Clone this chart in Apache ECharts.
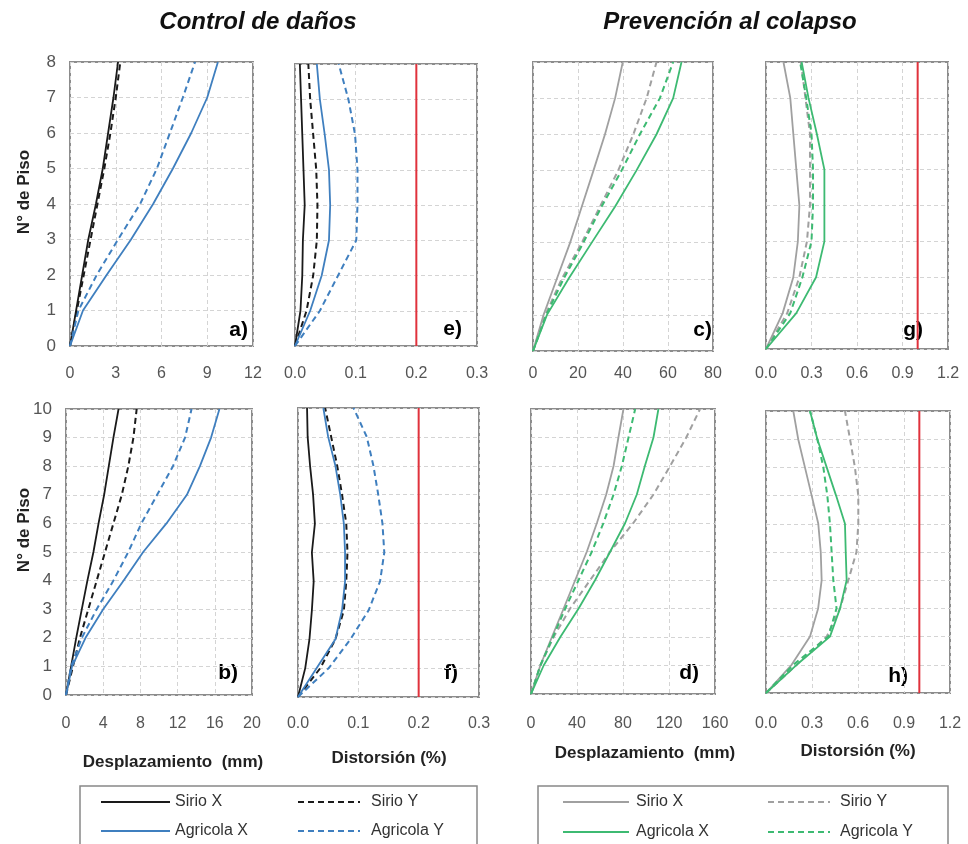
<!DOCTYPE html>
<html><head><meta charset="utf-8">
<script src="https://cdn.jsdelivr.net/npm/echarts@6/dist/echarts.min.js"></script>
<style>html,body{margin:0;padding:0;background:#fff}#c{width:968px;height:844px}</style>
</head><body><div id="c"></div>
<script>
// ---- data ----
const floors8 = [0,1,2,3,4,5,6,7,8];
const floors10 = [0,1,2,3,4,5,6,7,8,9,10];
// a) displacement, 8 floors (mm)
const a_sirioX = [0,0.4,0.8,1.2,1.7,2.15,2.5,2.85,3.15];
const a_sirioY = [0,0.45,0.9,1.35,1.8,2.25,2.65,3.0,3.3];
const a_agriX = [0,0.85,2.4,4.0,5.45,6.75,7.95,9.0,9.7];
const a_agriY = [0,0.55,1.75,3.15,4.6,5.7,6.55,7.4,8.2];
// e) drift, 8 floors (%)
const e_sirioX = [0,0.009,0.012,0.013,0.016,0.014,0.012,0.010,0.008];
const e_sirioY = [0,0.019,0.030,0.036,0.037,0.035,0.030,0.025,0.022];
const e_agriX = [0,0.025,0.044,0.056,0.058,0.056,0.049,0.041,0.036];
const e_agriY = [0,0.041,0.071,0.101,0.103,0.103,0.099,0.088,0.072];
// c) displacement, 8 floors (mm)
const c_sirioX = [0,4.7,10.6,16.5,21.7,26.9,32,36.5,39.9];
const c_sirioY = [0,5.5,12.8,21.7,29.8,37.9,44.6,50.5,54.9];
const c_agriX = [0,6.2,15.8,26.1,36.5,46,54.9,62.3,66];
const c_agriY = [0,5.9,13.6,22.4,30.5,39.4,47.5,56.4,62.3];
// g) drift, 8 floors (%)
const g_sirioX = [0,0.11,0.18,0.21,0.22,0.20,0.18,0.16,0.115];
const g_sirioY = [0,0.14,0.22,0.27,0.29,0.29,0.29,0.26,0.23];
const g_agriX = [0,0.20,0.33,0.385,0.385,0.385,0.335,0.28,0.235];
const g_agriY = [0,0.16,0.24,0.30,0.31,0.31,0.30,0.265,0.225];
// b) displacement, 10 floors (mm)
const b_sirioX = [0,0.55,1.1,1.7,2.3,2.95,3.5,4.1,4.6,5.1,5.65];
const b_sirioY = [0,0.75,1.5,2.4,3.3,4.2,5.1,6.0,6.7,7.25,7.6];
const b_agriX = [0,0.65,2.1,4.0,6.2,8.3,10.8,13,14.4,15.6,16.5];
const b_agriY = [0,0.55,1.7,3.3,5.1,6.7,8.1,9.8,11.5,12.8,13.5];
// f) drift, 10 floors (%)
const f_sirioX = [0,0.012,0.019,0.023,0.026,0.023,0.028,0.025,0.020,0.016,0.015];
const f_sirioY = [0,0.037,0.062,0.076,0.080,0.082,0.080,0.073,0.065,0.055,0.045];
const f_agriX = [0,0.031,0.062,0.073,0.078,0.078,0.076,0.070,0.062,0.050,0.042];
const f_agriY = [0,0.051,0.087,0.117,0.136,0.143,0.140,0.133,0.125,0.114,0.092];
// d) displacement, 10 floors (mm)
const d_sirioX = [0,8.1,18.2,28.4,38.5,48.6,57.3,65.4,71.8,76,80.4];
const d_sirioY = [0,8.1,19.7,34,51.5,69,89,106.5,121,135,147];
const d_agriX = [0,11,25.5,41.4,55.8,68.9,81.9,92,99,106.5,110.8];
const d_agriY = [0,8.1,19.1,29.8,41.4,53,63,71.8,79,84.8,90.6];
// h) drift, 10 floors (%)
const h_sirioX = [0,0.167,0.287,0.34,0.363,0.357,0.341,0.298,0.254,0.21,0.178];
const h_sirioY = [0,0.2,0.396,0.483,0.537,0.59,0.602,0.602,0.58,0.548,0.515];
const h_agriX = [0,0.2,0.417,0.483,0.526,0.52,0.515,0.457,0.396,0.335,0.287];
const h_agriY = [0,0.178,0.407,0.46,0.439,0.428,0.417,0.4,0.374,0.335,0.287];
// limits
const driftLimitDamage = 0.2;
const driftLimitCollapse = 1.0;
// axis ticks
const xTicks_a = [0,3,6,9,12];
const xTicks_e = [0,0.1,0.2,0.3];
const xTicks_c = [0,20,40,60,80];
const xTicks_g = [0,0.3,0.6,0.9,1.2];
const xTicks_b = [0,4,8,12,16,20];
const xTicks_f = [0,0.1,0.2,0.3];
const xTicks_d = [0,40,80,120,160];
const xTicks_h = [0,0.3,0.6,0.9,1.2];
const legendNames = ['Sirio X','Sirio Y','Agricola X','Agricola Y'];

// ---- styles ----
const FONT = 'Liberation Sans, Arial, sans-serif';
const BLACK = '#1a1a1a', BLUE = '#3f7fbf', GRAY = '#a0a0a0', GREEN = '#3dba72', RED = '#e0323c';
const DASH = [6,4];

const panels = [
  {grid:{left:70,top:62,width:183,height:284}, ticks:xTicks_a, dec:0, floors:floors8, yLab:true, margin:20,
   s:[a_sirioX,a_sirioY,a_agriX,a_agriY], col:[BLACK,BLUE], lim:null},
  {grid:{left:295,top:64,width:182,height:282}, ticks:xTicks_e, dec:1, floors:floors8, yLab:false, margin:20,
   s:[e_sirioX,e_sirioY,e_agriX,e_agriY], col:[BLACK,BLUE], lim:driftLimitDamage},
  {grid:{left:533,top:62,width:180,height:289}, ticks:xTicks_c, dec:0, floors:floors8, yLab:false, margin:15,
   s:[c_sirioX,c_sirioY,c_agriX,c_agriY], col:[GRAY,GREEN], lim:null},
  {grid:{left:766,top:62,width:182,height:287}, ticks:xTicks_g, dec:1, floors:floors8, yLab:false, margin:17,
   s:[g_sirioX,g_sirioY,g_agriX,g_agriY], col:[GRAY,GREEN], lim:driftLimitCollapse},
  {grid:{left:66,top:409,width:186,height:286}, ticks:xTicks_b, dec:0, floors:floors10, yLab:true, margin:21,
   s:[b_sirioX,b_sirioY,b_agriX,b_agriY], col:[BLACK,BLUE], lim:null},
  {grid:{left:298,top:408,width:181,height:289}, ticks:xTicks_f, dec:1, floors:floors10, yLab:false, margin:19,
   s:[f_sirioX,f_sirioY,f_agriX,f_agriY], col:[BLACK,BLUE], lim:driftLimitDamage},
  {grid:{left:531,top:409,width:184,height:285}, ticks:xTicks_d, dec:0, floors:floors10, yLab:false, margin:22,
   s:[d_sirioX,d_sirioY,d_agriX,d_agriY], col:[GRAY,GREEN], lim:null},
  {grid:{left:766,top:411,width:184,height:282}, ticks:xTicks_h, dec:1, floors:floors10, yLab:false, margin:23,
   s:[h_sirioX,h_sirioY,h_agriX,h_agriY], col:[GRAY,GREEN], lim:driftLimitCollapse}
];

const grids = [], xAxes = [], yAxes = [], series = [];
const gridLine = {show:true, lineStyle:{color:'#d4d4d4', type:[4,3], width:1}};
panels.forEach((p,i)=>{
  grids.push(Object.assign({show:true, borderColor:'#8c8c8c', borderWidth:2, containLabel:false}, p.grid));
  const tk = p.ticks;
  xAxes.push({type:'value', gridIndex:i, min:tk[0], max:tk[tk.length-1], interval:tk[1]-tk[0],
    axisLine:{show:false}, axisTick:{show:false}, splitLine:gridLine,
    axisLabel:{show:true, margin:p.margin, color:'#555', fontSize:16, fontFamily:FONT,
      formatter:v=>v.toFixed(p.dec)}});
  const fl = p.floors;
  yAxes.push({type:'value', gridIndex:i, min:0, max:fl[fl.length-1], interval:1,
    axisLine:{show:false}, axisTick:{show:false}, splitLine:gridLine,
    axisLabel:{show:p.yLab, margin:14, color:'#555', fontSize:17, fontFamily:FONT}});
  p.s.forEach((arr,k)=>{
    const color = k<2 ? p.col[0] : p.col[1];
    const dashed = (k%2===1);
    series.push({type:'line', name:legendNames[k], xAxisIndex:i, yAxisIndex:i, symbol:'none', silent:true,
      data:arr.map((v,j)=>[v, fl[j]]),
      lineStyle:{color:color, width:dashed?2:1.8, type:dashed?DASH:'solid'}, z:3});
  });
  if(p.lim!==null){
    series.push({type:'line', xAxisIndex:i, yAxisIndex:i, symbol:'none', silent:true,
      data:[[p.lim,0],[p.lim,fl[fl.length-1]]], lineStyle:{color:RED, width:2}, z:2});
  }
});

// ---- text & legend graphics ----
const g = [];
function txt(x,y,s,opt){ g.push({type:'text', x:x, y:y, rotation:opt&&opt.rot||0,
  style:Object.assign({text:s, fontFamily:FONT, fill:'#111', fontSize:16, align:'center', verticalAlign:'middle'}, opt&&opt.style||{})}); }
txt(258,22,'Control de daños',{style:{fontSize:24, fontWeight:'bold', fontStyle:'italic'}});
txt(730,22,'Prevención al colapso',{style:{fontSize:24, fontWeight:'bold', fontStyle:'italic'}});
txt(24,192,'N° de Piso',{rot:Math.PI/2, style:{fontSize:17, fontWeight:'bold', fill:'#222'}});
txt(24,530,'N° de Piso',{rot:Math.PI/2, style:{fontSize:17, fontWeight:'bold', fill:'#222'}});
txt(173,762,'Desplazamiento  (mm)',{style:{fontSize:17, fontWeight:'bold', fill:'#222'}});
txt(389,758,'Distorsión (%)',{style:{fontSize:17, fontWeight:'bold', fill:'#222'}});
txt(645,753,'Desplazamiento  (mm)',{style:{fontSize:17, fontWeight:'bold', fill:'#222'}});
txt(858,751,'Distorsión (%)',{style:{fontSize:17, fontWeight:'bold', fill:'#222'}});
const panelLabels = [['a)',248,330],['e)',462,329],['c)',712,330],['g)',923,330],
                     ['b)',238,673],['f)',458,673],['d)',699,673],['h)',908,676]];
panelLabels.forEach(l=>txt(l[1],l[2],l[0],{style:{fontSize:21, fontWeight:'bold', align:'right', fill:'#000'}}));

function legendBox(x0,x1,cols){
  g.push({type:'rect', shape:{x:x0,y:786,width:x1-x0,height:80}, style:{fill:'#fff', stroke:'#888', lineWidth:1.5}});
  cols.forEach(c=>{
    g.push({type:'line', shape:{x1:c.lx1,y1:c.y,x2:c.lx2,y2:c.y}, style:{stroke:c.color, lineWidth:2, lineDash:c.dash?DASH:null}});
    txt(c.tx,c.y,c.name,{style:{align:'left', fontSize:16, fill:'#333'}});
  });
}
legendBox(80,477,[
  {lx1:101,lx2:170,tx:175,y:802,color:BLACK,dash:false,name:legendNames[0]},
  {lx1:298,lx2:360,tx:371,y:802,color:BLACK,dash:true,name:legendNames[1]},
  {lx1:101,lx2:170,tx:175,y:831,color:BLUE,dash:false,name:legendNames[2]},
  {lx1:298,lx2:360,tx:371,y:831,color:BLUE,dash:true,name:legendNames[3]}
]);
legendBox(538,948,[
  {lx1:563,lx2:629,tx:636,y:802,color:GRAY,dash:false,name:legendNames[0]},
  {lx1:768,lx2:830,tx:840,y:802,color:GRAY,dash:true,name:legendNames[1]},
  {lx1:563,lx2:629,tx:636,y:832,color:GREEN,dash:false,name:legendNames[2]},
  {lx1:768,lx2:830,tx:840,y:832,color:GREEN,dash:true,name:legendNames[3]}
]);

const chart = echarts.init(document.getElementById('c'), null, {renderer:'canvas'});
chart.setOption({animation:false, backgroundColor:'#fff', grid:grids, xAxis:xAxes, yAxis:yAxes, series:series, graphic:g});
</script></body></html>
